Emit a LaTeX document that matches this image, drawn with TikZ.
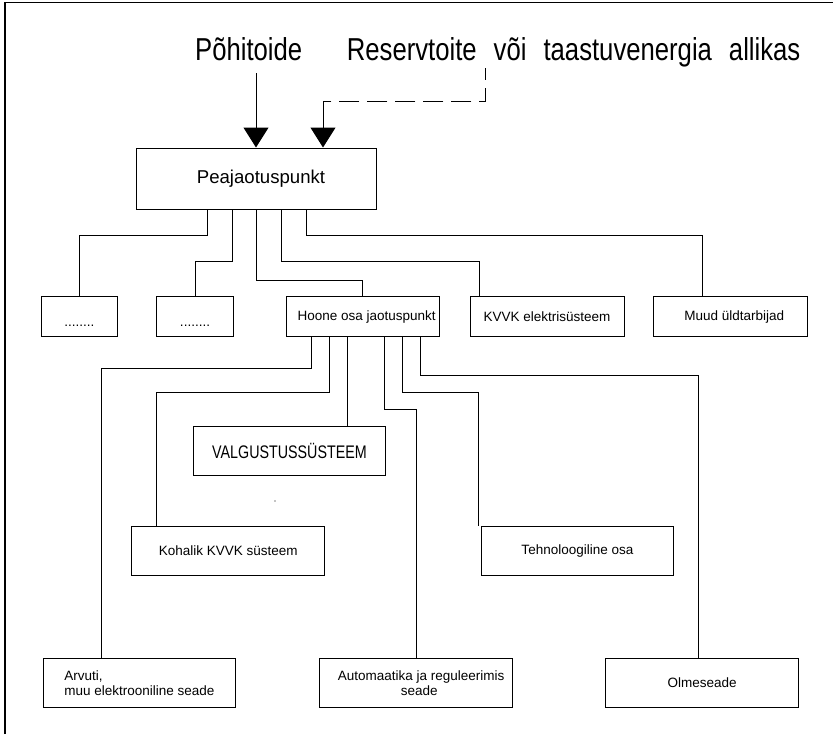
\documentclass[tikz,border=0pt]{standalone}
\usepackage{fontspec}
\setmainfont{Liberation Sans}
\newfontfamily\topf{Liberation Sans}[FakeStretch=0.81]
\newfontfamily\capf{Liberation Sans}[FakeStretch=0.785]
\usetikzlibrary{arrows.meta}
\begin{document}
\begin{tikzpicture}[x=1pt,y=-1pt,
  blk/.style={draw, line width=1pt, inner sep=0pt, align=center,
              font=\fontsize{13.5}{15.3}\selectfont},
  boxa/.style={blk, minimum width=#1, minimum height=39.5pt},
  boxb/.style={blk, minimum width=192.5pt, minimum height=49.5pt},
  wire/.style={line width=1pt},
  arr/.style={line width=1pt, -{Triangle[width=25pt,length=20pt]}},
  lbl/.style={inner sep=0pt, anchor=base west, font=\topf\fontsize{31.7}{36}\selectfont}]
\useasboundingbox (0,0) rectangle (833,734);
\draw[line width=1.5pt] (5,734) -- (5,2.5) -- (833,2.5);

% top labels
\node[lbl] (pohi) at (195,60) {Põhitoide};
\node[lbl] (res) at (346.7,60) {Reservtoite\hspace{17pt}või\hspace{17pt}taastuvenergia\hspace{17pt}allikas};

% main box
\node[blk, minimum width=240pt, minimum height=61pt, font=\fontsize{18.6}{20}\selectfont] (pea) at (256,178.5) {\hspace*{10pt}Peajaotuspunkt};

% level one
\node[boxa=76.7pt] (d1) at (79.4,316.7) {\raisebox{-10pt}[0pt][0pt]{........}};
\node[boxa=76.7pt] (d2) at (195,316.7) {\raisebox{-10pt}[0pt][0pt]{........}};
\node[boxa=153.3pt] (hoone) at (362.7,316.7) {\hspace*{8pt}Hoone osa jaotuspunkt};
\node[boxa=154pt] (kvvk) at (547,316.7) {KVVK elektrisüsteem};
\node[boxa=154pt] (muud) at (730.3,316.7) {\hspace*{8pt}Muud üldtarbijad};

% level two
\node[boxb] (valg) at (289.5,451.2) {\capf\fontsize{18.2}{20}\selectfont VALGUSTUSSÜSTEEM};
\node[boxb] (koh) at (228.2,550.8) {Kohalik KVVK süsteem};
\node[boxb] (tech) at (577.4,550.8) {Tehnoloogiline osa};
\node[boxb, align=left] (arv) at (139.5,682.9) {Arvuti,\\muu elektrooniline seade};
\node[boxb] (auto) at (416.2,682.9) {\hspace*{10pt}Automaatika ja reguleerimis\\\hspace*{6pt}seade};
\node[boxb] (olme) at (702.2,682.9) {Olmeseade};

% supply arrows
\path ([yshift=-13pt]pohi.base) coordinate (pbot);
\draw[arr] (pbot -| pea.north) -- (pea.north);
\coordinate (dtop) at (485.7,68);
\coordinate (dbend) at (323,101.7);
\draw[wire, dash pattern=on 20pt off 8pt, dash phase=8pt] (dtop) |- (dbend);
\draw[arr] (dbend) -- (dbend |- pea.north);

% branches from main box
\draw[wire] ([xshift=-49pt]pea.south) -- ++(0,26) -| (d1.north);
\draw[wire] ([xshift=-24pt]pea.south) -- ++(0,52) -| (d2.north);
\draw[wire] ([xshift=0.7pt]pea.south) -- ++(0,71) -| (hoone.north);
\draw[wire] ([xshift=25pt]pea.south) -- ++(0,52) -| ([xshift=-68pt]kvvk.north);
\draw[wire] ([xshift=50pt]pea.south) -- ++(0,26) -| ([xshift=-28pt]muud.north);

% branches from Hoone osa jaotuspunkt
\draw[wire] ([xshift=-51.3pt]hoone.south) -- ++(0,31.3) -| ([xshift=-38.5pt]arv.north);
\draw[wire] ([xshift=-33.3pt]hoone.south) -- ++(0,55.9) -| ([xshift=-71.5pt]koh.north);
\draw[wire] ([xshift=-15.2pt]hoone.south) coordinate (v0) -- (v0 |- valg.north);
\draw[wire] ([xshift=21.5pt]hoone.south) -- ++(0,72.9) -| (auto.north);
\draw[wire] ([xshift=40.1pt]hoone.south) -- ++(0,55.9) -| ([xshift=-99pt]tech.north);
\draw[wire] ([xshift=58.1pt]hoone.south) -- ++(0,38.6) -| ([xshift=-3.5pt]olme.north);

\fill (275,501) circle (0.6pt);
\end{tikzpicture}
\end{document}
